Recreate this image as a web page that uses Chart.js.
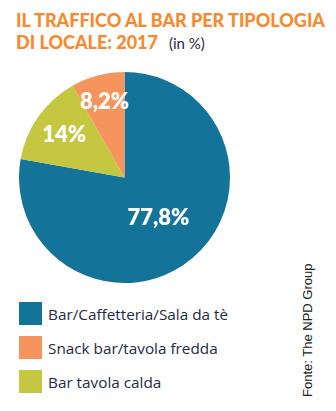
<!DOCTYPE html>
<html lang="it">
<head>
<meta charset="utf-8">
<title>Il traffico al bar per tipologia di locale: 2017</title>
<script src="https://cdn.jsdelivr.net/npm/chart.js@4/dist/chart.umd.min.js"></script>
<style>
  html, body { margin: 0; padding: 0; background: #fff; }
  body { width: 336px; height: 411px; position: relative; overflow: hidden; }
  .title {
    position: absolute; left: 16px; top: 9px;
    font-family: Lato, sans-serif; font-weight: 900; font-size: 18px;
    line-height: 22px; color: #F7892F; white-space: nowrap;
  }
  .title .unit {
    font-weight: 400; font-size: 15px; color: #1f2a44;
    margin-left: 11px;
  }
  .pie-wrap { position: absolute; left: 19px; top: 72px; width: 211px; height: 211px; }
  .legend { position: absolute; left: 19px; top: 302px; }
  .legend-item { display: flex; align-items: center; height: 23px; margin-bottom: 11px; }
  .legend-box { width: 23px; height: 23px; margin-right: 6px; flex: none; }
  .legend-text { font-family: "Open Sans", sans-serif; font-size: 15.3px; color: #1f2a44; white-space: nowrap; }
  .source {
    position: absolute; left: 300px; top: 397px;
    transform-origin: 0 0; transform: rotate(-90deg);
    font-family: "Liberation Sans", Arial, sans-serif; font-size: 13px;
    color: #222; white-space: nowrap;
  }
</style>
</head>
<body>
<div class="title">IL TRAFFICO AL BAR PER TIPOLOGIA<br>DI LOCALE: 2017<span class="unit">(in %)</span></div>
<div class="pie-wrap"><canvas id="trafficPie"></canvas></div>
<div class="legend" id="legend"></div>
<div class="source">Fonte: The NPD Group</div>

<script>
// Tipologie di locale, in ordine di legenda
const categories = ['Bar/Caffetteria/Sala da tè', 'Snack bar/tavola fredda', 'Bar tavola calda'];
const shares = [77.8, 8.2, 14];
const sliceLabels = ['77,8%', '8,2%', '14%'];
const colors = ['#147399', '#F5955D', '#C6C741'];

// Ordine in senso orario dalle ore 12: bar, tavola calda, snack bar
const drawOrder = [0, 2, 1];
// Distanza delle etichette dal centro (frazione del raggio), per fetta
const labelRadius = [0.5, 0.74, 0.7];

// Etichette bianche dentro le fette
const sliceLabelPlugin = {
  id: 'sliceLabels',
  afterDatasetsDraw(chart) {
    const { ctx } = chart;
    const meta = chart.getDatasetMeta(0);
    ctx.save();
    ctx.fillStyle = '#fff';
    ctx.font = '800 22px Lato, sans-serif';
    ctx.textAlign = 'center';
    ctx.textBaseline = 'middle';
    meta.data.forEach((arc, i) => {
      const src = drawOrder[i];
      const mid = (arc.startAngle + arc.endAngle) / 2;
      const r = arc.outerRadius * labelRadius[src];
      ctx.fillText(sliceLabels[src], arc.x + Math.cos(mid) * r, arc.y + Math.sin(mid) * r);
    });
    ctx.restore();
  }
};

new Chart(document.getElementById('trafficPie'), {
  type: 'pie',
  data: {
    labels: drawOrder.map(i => categories[i]),
    datasets: [{
      data: drawOrder.map(i => shares[i]),
      backgroundColor: drawOrder.map(i => colors[i]),
      borderWidth: 0
    }]
  },
  options: {
    responsive: true,
    maintainAspectRatio: false,
    animation: false,
    layout: { padding: 0 },
    plugins: {
      legend: { display: false },
      tooltip: { enabled: false }
    }
  },
  plugins: [sliceLabelPlugin]
});

// Legenda verticale
const legend = document.getElementById('legend');
categories.forEach((name, i) => {
  const item = document.createElement('div');
  item.className = 'legend-item';
  item.innerHTML = `<div class="legend-box" style="background:${colors[i]}"></div><span class="legend-text">${name}</span>`;
  legend.appendChild(item);
});
</script>
</body>
</html>
